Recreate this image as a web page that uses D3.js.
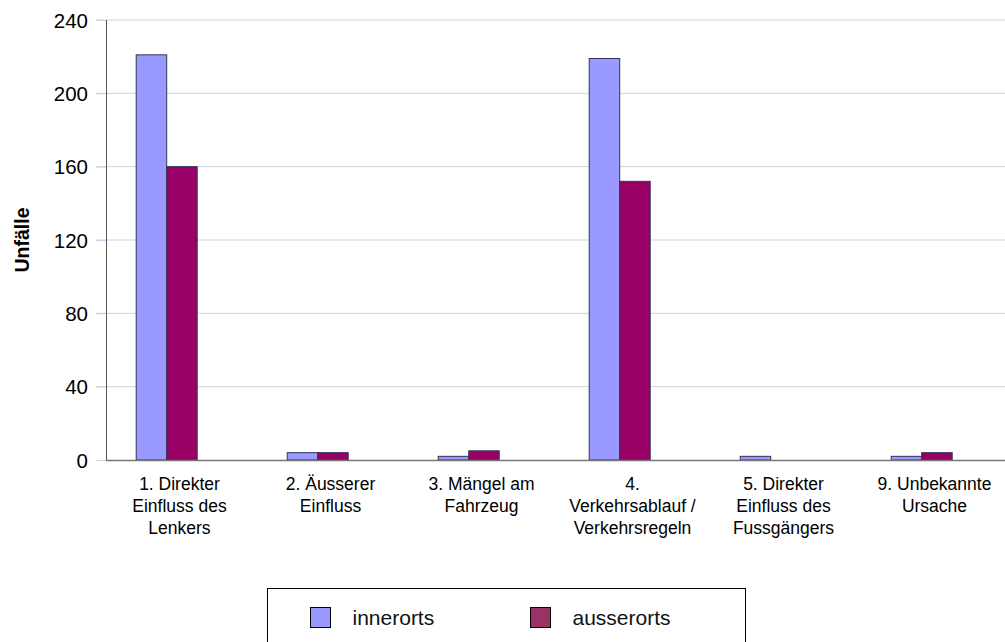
<!DOCTYPE html>
<html><head><meta charset="utf-8">
<script src="https://d3js.org/d3.v7.min.js"></script>
<style>body{margin:0;background:#fff}svg{display:block}text{font-family:"Liberation Sans",Arial,sans-serif}</style>
</head><body>
<script>
const categories = [
  ["1. Direkter","Einfluss des","Lenkers"],
  ["2. Äusserer","Einfluss"],
  ["3. Mängel am","Fahrzeug"],
  ["4.","Verkehrsablauf /","Verkehrsregeln"],
  ["5. Direkter","Einfluss des","Fussgängers"],
  ["9. Unbekannte","Ursache"]
];
const innerorts = [221, 4, 2, 219, 2, 2];
const ausserorts = [160, 4, 5, 152, 0, 4];
const seriesNames = ["innerorts", "ausserorts"];
const yTicks = [0, 40, 80, 120, 160, 200, 240];

const W = 1005, H = 642;
const svg = d3.select("body").append("svg").attr("width", W).attr("height", H);
const mLeft = 106, mTop = 20, mBottom = 460;
const x = d3.scaleBand().domain(d3.range(categories.length)).range([mLeft, 1012]);
const y = d3.scaleLinear().domain([0, 240]).range([mBottom, mTop]);
const barW = x.bandwidth() * 0.202;

// gridlines
svg.append("g").selectAll("line").data(yTicks.slice(1)).join("line")
  .attr("x1", mLeft - 10).attr("x2", W).attr("y1", d => y(d)).attr("y2", d => y(d))
  .attr("stroke", "#d0d0e4").attr("stroke-width", 1);

// y axis
const yAxis = d3.axisLeft(y).tickValues(yTicks).tickSize(10).tickPadding(8);
const gy = svg.append("g").attr("transform", `translate(${mLeft},0)`).call(yAxis);
gy.select(".domain").attr("stroke", "#555").attr("d", `M0.5,${mTop}V${mBottom}`);
gy.selectAll(".tick line").attr("stroke", "#d0d0e4");
gy.selectAll(".tick text").attr("font-size", 20.5).attr("fill", "#000").attr("dy", "0.35em");

// bars
const colors = ["#9999ff", "#990066"];
[innerorts, ausserorts].forEach((vals, s) => {
  svg.append("g").selectAll("rect").data(vals).join("rect")
    .attr("x", (d, i) => x(i) + x.bandwidth() * 0.2 + s * barW)
    .attr("y", d => y(d))
    .attr("width", barW)
    .attr("height", d => y(0) - y(d))
    .attr("fill", colors[s])
    .attr("stroke", "#333355").attr("stroke-width", 1)
    .attr("display", d => d > 0 ? null : "none");
});

// baseline
svg.append("line").attr("x1", mLeft).attr("x2", W).attr("y1", mBottom + 0.5).attr("y2", mBottom + 0.5)
  .attr("stroke", "#777").attr("stroke-width", 1.5);

// category labels
const cl = svg.append("g").selectAll("text").data(categories).join("text")
  .attr("text-anchor", "middle").attr("font-size", 17.5).attr("fill", "#000");
cl.each(function(lines, i) {
  d3.select(this).selectAll("tspan").data(lines).join("tspan")
    .attr("x", x(i) + x.bandwidth() / 2 - 2)
    .attr("y", (d, j) => 489.5 + j * 22)
    .text(d => d);
});

// y title
svg.append("text").attr("transform", "translate(29,240) rotate(-90)")
  .attr("text-anchor", "middle").attr("font-size", 19.5).attr("font-weight", "bold").text("Unfälle");

// legend
svg.append("rect").attr("x", 267.5).attr("y", 588.5).attr("width", 478).attr("height", 70)
  .attr("fill", "#fff").attr("stroke", "#000").attr("stroke-width", 1);
const legColors = ["#9999ff", "#993366"];
const lg = svg.append("g").selectAll("g").data(seriesNames).join("g")
  .attr("transform", (d, i) => `translate(${310.5 + i * 220},607.5)`);
lg.append("rect").attr("width", 20).attr("height", 20).attr("fill", (d, i) => legColors[i])
  .attr("stroke", "#000").attr("stroke-width", 1);
lg.append("text").attr("x", 42).attr("y", 17.5).attr("font-size", 21).attr("fill", "#111").text(d => d);
</script>
</body></html>
